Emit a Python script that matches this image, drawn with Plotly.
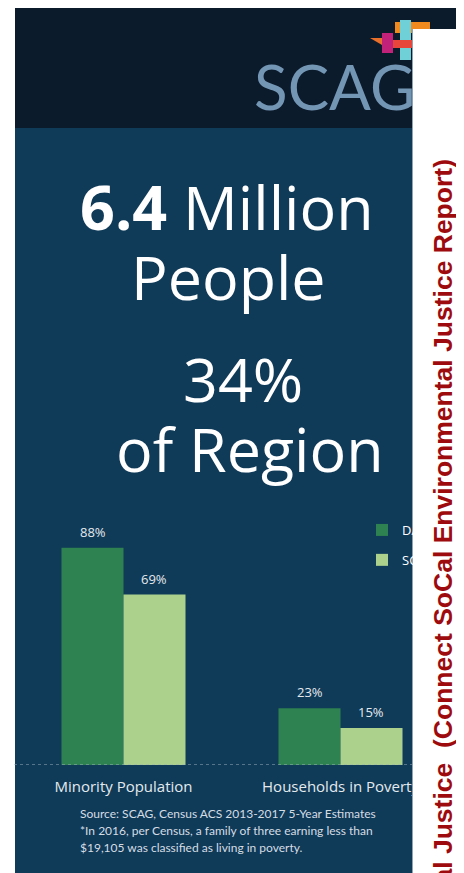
import plotly.graph_objects as go

# ---------------- data ----------------
categories = ["Minority Population", "Households in Poverty"]
dac_values = [88, 23]
region_values = [69, 15]
series_names = ["DACs", "SCAG Region"]
headline_lines = ["<b>6.4</b> Million", "People", "34%", "of Region"]
source_lines = [
    "Source: SCAG, Census ACS 2013-2017 5-Year Estimates",
    "*In 2016, per Census, a family of three earning less than",
    "$19,105 was classified as living in poverty.",
]
side_title = "Environmental Justice  (Connect SoCal Environmental Justice Report)"

# ---------------- geometry helpers (screen pixels -> paper) ----------------
W, H = 464, 873
OFF = 8                      # page body margin
ML, MR, MT, MB = 7, 23, 510, 116
PW = W - ML - MR
PH = H - MT - MB


def px(x):
    return (x - OFF - ML) / PW


def py(y):
    return (H - MB - (y - OFF)) / PH


NAVY = "#0f3a58"
HEADER = "#0c1b2b"
DARK_GREEN = "#2e8150"
LIGHT_GREEN = "#acd18d"
LABEL = "#e4eaee"
FONT = "Open Sans"

BARGAP = 0.4286
bar_half = PW / len(categories) * (1 - BARGAP) / 4  # half of one bar width in px

fig = go.Figure()
for name, vals, color, grp in [(series_names[0], dac_values, DARK_GREEN, "a"),
                               (series_names[1], region_values, LIGHT_GREEN, "b")]:
    fig.add_bar(x=categories, y=vals, name=name,
                marker=dict(color=color, line=dict(width=0)),
                legendgroup=grp)

shapes = [
    dict(type="rect", xref="paper", yref="paper", x0=px(15), x1=px(457), y0=py(128), y1=py(0),
         fillcolor=HEADER, line=dict(width=0), layer="below"),
    dict(type="rect", xref="paper", yref="paper", x0=px(15), x1=px(470), y0=py(890), y1=py(128),
         fillcolor=NAVY, line=dict(width=0), layer="below"),
    # logo pieces
    dict(type="rect", xref="paper", yref="paper", x0=px(395), x1=px(430), y0=py(33), y1=py(22),
         fillcolor="#f08a1e", line=dict(width=0), layer="below"),
    dict(type="rect", xref="paper", yref="paper", x0=px(400), x1=px(411), y0=py(60), y1=py(20),
         fillcolor="#6fd0d8", line=dict(width=0), layer="below"),
    dict(type="rect", xref="paper", yref="paper", x0=px(382), x1=px(393), y0=py(53), y1=py(33),
         fillcolor="#c2227a", line=dict(width=0), layer="below"),
    dict(type="rect", xref="paper", yref="paper", x0=px(393), x1=px(414), y0=py(48), y1=py(40),
         fillcolor="#e8463a", line=dict(width=0), layer="below"),
    dict(type="path", xref="paper", yref="paper",
         path=f"M {px(370)} {py(38)} L {px(382)} {py(38)} L {px(382)} {py(45)} Z",
         fillcolor="#e8702a", line=dict(width=0), layer="below"),
    # dotted baseline
    dict(type="line", xref="paper", yref="y", x0=px(14), x1=px(412), y0=0, y1=0,
         line=dict(color="#9fb0bf", width=1, dash="dot"), layer="above"),
    # thin grey edge of the side panel
    dict(type="line", xref="paper", yref="paper", x0=px(412.5), x1=px(412.5), y0=py(880), y1=py(29),
         line=dict(color="#8fa3b5", width=1), layer="above"),
]

annotations = [
    dict(text="SCAG", x=px(334), y=py(86), xref="paper", yref="paper", showarrow=False,
         xanchor="center", yanchor="middle", font=dict(family="Lato", size=62, color="#7396b5")),
]
# value labels above bars, anchored to the data
for vals, shift in [(dac_values, -bar_half), (region_values, bar_half)]:
    for cat, v in zip(categories, vals):
        annotations.append(dict(text=f"{v}%", x=cat, y=v, xref="x", yref="y", showarrow=False,
                                xanchor="center", yanchor="middle", xshift=shift, yshift=16,
                                font=dict(family=FONT, size=13, color=LABEL)))
# headline lines: (center x, baseline y); boxes trimmed so they do not overlap
headline_pos = [(227, 230), (228, 300), (243, 402), (250, 472)]
for txt, (cx, base) in zip(headline_lines, headline_pos):
    annotations.append(dict(text=txt, x=px(cx), y=py(base - 14.4), xref="paper", yref="paper",
                            showarrow=False, xanchor="center", yanchor="middle",
                            height=64, valign="bottom", borderpad=0,
                            font=dict(family=FONT, size=61, color="#ffffff")))
for txt, cy in zip(source_lines, [813, 830, 847]):
    annotations.append(dict(text=txt, x=px(78), y=py(cy), xref="paper", yref="paper",
                            showarrow=False, xanchor="left", yanchor="middle",
                            font=dict(family="Lato", size=12, color="#d5dde4")))
# white side panel (covers the clipped right part)
annotations.append(dict(text=" ", x=px(439.5), y=py(455), xref="paper", yref="paper",
                        showarrow=False, xanchor="center", yanchor="middle",
                        width=53, height=852, bgcolor="#ffffff", borderpad=0, borderwidth=0))
annotations.append(dict(text=side_title, x=px(442.5), y=py(158), xref="paper", yref="paper",
                        showarrow=False, xanchor="center", yanchor="top", textangle=-90,
                        font=dict(family="Liberation Sans", size=26.5, color="#9e0b0f",
                                  weight="bold")))

fig.update_layout(
    width=W, height=H,
    margin=dict(l=ML, r=MR, t=MT, b=MB, autoexpand=False),
    paper_bgcolor="#ffffff", plot_bgcolor="rgba(0,0,0,0)",
    barmode="group", bargap=BARGAP, bargroupgap=0,
    shapes=shapes, annotations=annotations,
    showlegend=True,
    legend=dict(x=px(362), y=py(515), xanchor="left", yanchor="top",
                font=dict(family=FONT, size=13, color="#ffffff"),
                bgcolor="rgba(0,0,0,0)", tracegroupgap=10),
    xaxis=dict(showgrid=False, zeroline=False, showline=False, ticks="",
               tickfont=dict(family=FONT, size=15, color=LABEL), ticklabelstandoff=11),
    yaxis=dict(range=[0, 100], visible=False),
    hovermode=False,
)

fig.write_html("out.html")
